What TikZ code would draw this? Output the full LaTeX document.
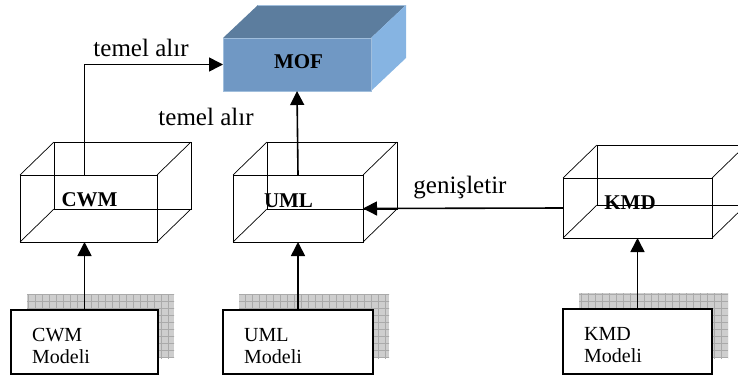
\documentclass[tikz,border=0pt]{standalone}
\usepackage{fontspec}
\setmainfont{Liberation Serif}
\usetikzlibrary{arrows.meta,calc}

\definecolor{moffront}{RGB}{112,152,196}
\definecolor{moftop}{RGB}{92,125,158}
\definecolor{mofside}{RGB}{134,180,226}
\definecolor{mofedge}{RGB}{160,190,220}
\definecolor{shadefill}{RGB}{206,206,206}
\definecolor{shadegrid}{RGB}{170,170,170}

\begin{document}
\begin{tikzpicture}[x=1pt,y=-1pt,
  cubeface/.style={draw, line width=0.7pt, inner sep=0pt, outer sep=0pt},
  cubelabel/.style={inner sep=0pt, anchor=base, font=\fontsize{21}{24}\selectfont\bfseries},
  modelbox/.style={draw, line width=1.8pt, fill=white, inner sep=0pt, outer sep=0pt},
  modeltext/.style={inner sep=0pt, anchor=base west, font=\fontsize{20}{23}\selectfont},
  edgelabel/.style={inner sep=0pt, anchor=base, font=\fontsize{25}{28}\selectfont},
  conn/.style={line width=1.6pt, -{Triangle[length=14pt,width=14pt]}},
  wire/.style={line width=0.7pt}
]
\useasboundingbox (0,0) rectangle (738,378);

% MOF block: top, side and front faces
\fill[moftop] (223,38) -- (258,5) -- (406,5) -- (371,38) -- cycle;
\fill[mofside] (371,38) -- (406,5) -- (406,58) -- (371,91) -- cycle;
\draw[mofedge, line width=0.6pt] (258,5) -- (406,5);
\node[fill=moffront, draw=mofedge, line width=0.5pt, inner sep=0pt, outer sep=0pt,
      minimum width=148pt, minimum height=53pt] (mof) at (297,64.5) {};
\node[cubelabel] (moflbl) at (298.5,68) {MOF};

% Wireframe boxes (front faces as nodes)
\node[cubeface, minimum width=137pt, minimum height=67pt] (cwm) at (88.5,208.5) {};
\node[cubeface, minimum width=130pt, minimum height=67pt] (uml) at (298,208.5) {};
\node[cubeface, minimum width=149pt, minimum height=60pt] (kmd) at (637.5,208) {};
\foreach \n in {cwm,uml,kmd} {
  \draw[wire] ($(\n.north west)+(34,-33)$) rectangle ($(\n.south east)+(34,-33)$);
  \foreach \a in {north west,north east,south west,south east}
    \draw[wire] (\n.\a) -- ++(34,-33);
}
\node[cubelabel] (cwmlbl) at (89.5,206) {CWM};
\node[cubelabel] (umllbl) at (288.5,207) {UML};
\node[cubelabel] (kmdlbl) at (630,209) {KMD};

% Model boxes with grid shadows
\foreach \n/\cx/\cy/\w/\h in {cwmm/84.5/342/147/64, umlm/298/342/150/64, kmdm/637.5/341.5/149/65} {
  \fill[shadefill] (\cx-\w/2+16,\cy-\h/2-16) rectangle (\cx+\w/2+16,\cy+\h/2-16);
  \begin{scope}
    \clip (\cx-\w/2+16,\cy-\h/2-16) rectangle (\cx+\w/2+16,\cy+\h/2-16);
    \draw[shadegrid, line width=0.5pt, step=7pt] (\cx-\w/2,\cy-\h/2-30) grid (\cx+\w/2+30,\cy+\h/2);
  \end{scope}
  \node[modelbox, minimum width=\w pt, minimum height=\h pt] (\n) at (\cx,\cy) {};
}
\node[modeltext] (cwmt1) at ($(cwmm.north west)+(21,31)$) {CWM};
\node[modeltext] (cwmt2) at ($(cwmm.north west)+(21,53)$) {Modeli};
\node[modeltext] (umlt1) at ($(umlm.north west)+(21,31)$) {UML};
\node[modeltext] (umlt2) at ($(umlm.north west)+(21,53)$) {Modeli};
\node[modeltext] (kmdt1) at ($(kmdm.north west)+(21,31)$) {KMD};
\node[modeltext] (kmdt2) at ($(kmdm.north west)+(21,53)$) {Modeli};

% Connectors
\draw[conn] (cwmm.north) -- (cwmm.north |- cwm.south);
\draw[conn] (umlm.north) -- (uml.south);
\draw[conn] (kmdm.north) -- (kmd.south);
\draw[conn] (cwmm.north |- cwm.north) |- (mof.west);
\draw[conn] (uml.north) -- (mof.south);
\draw[conn] (kmd.west) -- (uml.east);

% Connector labels
\node[edgelabel] (lbl1) at (141,56) {temel alır};
\node[edgelabel] (lbl2) at (206,125) {temel alır};
\node[edgelabel] (lbl3) at (460,193) {genişletir};
\end{tikzpicture}
\end{document}
